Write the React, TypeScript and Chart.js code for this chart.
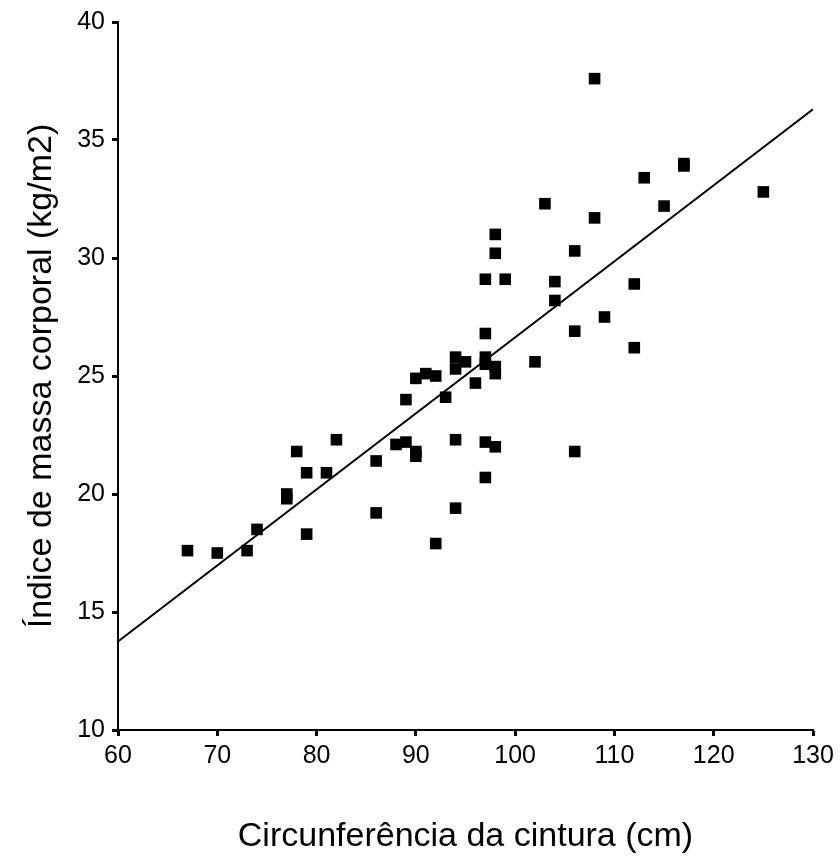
import React, { useEffect, useRef } from "react";
import { Chart, registerables } from "chart.js";

Chart.register(...registerables);

// Waist circumference (cm)
const waist: number[] = [
  67, 70, 73, 74, 79, 86, 92, 94,
  78, 79, 81, 77, 77, 82, 86, 88, 89, 89, 90, 90, 90,
  98, 106, 97, 99, 104, 104, 112, 109, 106, 112, 97, 94, 95, 94, 97, 97, 98, 98, 102,
  96, 93, 91, 92, 94, 97, 98, 106, 97,
  108, 125, 117, 117, 113, 115, 103, 108, 98,
];

// Body mass index (kg/m2)
const bmi: number[] = [
  17.6, 17.5, 17.6, 18.5, 18.3, 19.2, 17.9, 19.4,
  21.8, 20.9, 20.9, 20.0, 19.8, 22.3, 21.4, 22.1, 22.2, 24.0, 24.9, 21.8, 21.6,
  30.2, 30.3, 29.1, 29.1, 29.0, 28.2, 28.9, 27.5, 26.9, 26.2, 26.8, 25.8, 25.6, 25.3, 25.8, 25.5, 25.4, 25.1, 25.6,
  24.7, 24.1, 25.1, 25.0, 22.3, 22.2, 22.0, 21.8, 20.7,
  37.6, 32.8, 34.0, 33.9, 33.4, 32.2, 32.3, 31.7, 31.0,
];

// Fitted regression line endpoints
const fitX: number[] = [60, 130];
const fitY: number[] = [13.75, 36.3];

const xTickValues: number[] = [60, 70, 80, 90, 100, 110, 120, 130];
const yTickValues: number[] = [10, 15, 20, 25, 30, 35, 40];

const xTitle = "Circunferência da cintura (cm)";
const yTitle = "Índice de massa corporal (kg/m2)";

const FONT = "'Liberation Sans', Arial, Helvetica, sans-serif";

export default function App() {
  const canvasRef = useRef<HTMLCanvasElement | null>(null);

  useEffect(() => {
    const canvas = canvasRef.current;
    if (!canvas) return;
    const chart = new Chart(canvas, {
      type: "scatter",
      data: {
        datasets: [
          {
            type: "scatter",
            data: waist.map((x, i) => ({ x, y: bmi[i] })),
            pointStyle: "rect",
            pointRadius: 8.2,
            pointHoverRadius: 8.2,
            pointBackgroundColor: "#000000",
            pointBorderColor: "#000000",
            pointBorderWidth: 0,
            order: 1,
          },
          {
            type: "line",
            data: fitX.map((x, i) => ({ x, y: fitY[i] })),
            borderColor: "#000000",
            borderWidth: 2,
            pointRadius: 0,
            fill: false,
            tension: 0,
            order: 2,
          } as any,
        ],
      },
      options: {
        animation: false,
        responsive: false,
        events: [],
        layout: { padding: { top: 17, right: 27, left: 0, bottom: 0 } },
        plugins: {
          legend: { display: false },
          tooltip: { enabled: false },
        },
        scales: {
          x: {
            type: "linear",
            min: 60,
            max: 130,
            afterBuildTicks: (scale: any) => {
              scale.ticks = xTickValues.map((v) => ({ value: v }));
            },
            afterFit: (scale: any) => {
              scale.height = 127;
            },
            border: { display: true, color: "#000000", width: 2 },
            grid: {
              display: true,
              drawOnChartArea: false,
              drawTicks: true,
              tickLength: 6,
              tickWidth: 3,
              tickColor: "#000000",
            },
            ticks: {
              color: "#000000",
              font: { family: FONT, size: 25 },
              padding: 5,
              maxRotation: 0,
            },
            title: {
              display: true,
              text: xTitle,
              color: "#000000",
              font: { family: FONT, size: 34 },
              padding: { top: 0, bottom: 0 },
            },
          },
          y: {
            type: "linear",
            min: 10,
            max: 40,
            afterBuildTicks: (scale: any) => {
              scale.ticks = yTickValues.map((v) => ({ value: v }));
            },
            afterFit: (scale: any) => {
              scale.width = 118;
            },
            border: { display: true, color: "#000000", width: 2 },
            grid: {
              display: true,
              drawOnChartArea: false,
              drawTicks: true,
              tickLength: 6,
              tickWidth: 3,
              tickColor: "#000000",
            },
            ticks: {
              color: "#000000",
              font: { family: FONT, size: 25 },
              padding: 7,
            },
            title: {
              display: true,
              text: yTitle,
              color: "#000000",
              font: { family: FONT, size: 34 },
              padding: { top: 21, bottom: 0 },
            },
          },
        },
      },
    });
    return () => {
      chart.destroy();
    };
  }, []);

  return (
    <div style={{ position: "absolute", left: 0, top: 0, width: 840, height: 857, background: "#ffffff" }}>
      <canvas ref={canvasRef} width={840} height={857} style={{ width: 840, height: 857, display: "block" }} />
    </div>
  );
}
